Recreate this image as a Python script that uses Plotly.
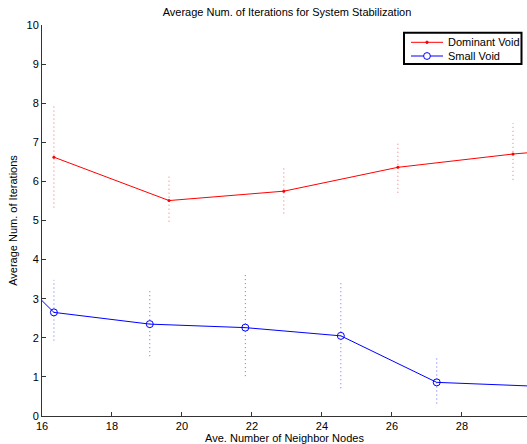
import plotly.graph_objects as go

# Data
dom_x = [16.34, 19.63, 22.91, 26.17, 29.46, 32.74]
dom_y = [6.62, 5.51, 5.75, 6.36, 6.70, 6.95]
dom_lo = [5.33, 4.97, 5.18, 5.71, 6.04, None]
dom_hi = [7.95, 6.16, 6.35, 7.02, 7.49, None]

small_x = [13.61, 16.34, 19.08, 21.81, 24.54, 27.28, 30.01]
small_y = [5.06, 2.65, 2.35, 2.26, 2.05, 0.86, 0.765]
small_lo = [None, 1.93, 1.53, 1.02, 0.71, 0.32, None]
small_hi = [None, 3.48, 3.22, 3.61, 3.43, 1.52, None]

series_names = ["Dominant Void", "Small Void"]
series_colors = ["#ff0000", "#0000ff"]

x_ticks = [16, 18, 20, 22, 24, 26, 28]
y_ticks = [0, 1, 2, 3, 4, 5, 6, 7, 8, 9, 10]

FONT = "Liberation Sans, Arial, sans-serif"

# plot area in pixels (for converting legend layout to paper coords)
W, H = 527, 444
L, R, T, B = 42, 0, 25, 28
PW, PH = W - L - R, H - T - B


def px(x):
    return (x - L) / PW


def py(y):
    return (H - B - y) / PH


fig = go.Figure()


def err_segments(xs, lo, hi):
    ex, ey = [], []
    for x, a, b in zip(xs, lo, hi):
        if a is None or b is None:
            continue
        ex += [x, x, None]
        ey += [a, b, None]
    return ex, ey


ex, ey = err_segments(dom_x, dom_lo, dom_hi)
fig.add_trace(go.Scatter(x=ex, y=ey, mode="lines", showlegend=False, hoverinfo="skip",
                         line=dict(color="rgba(255,90,90,0.9)", width=1, dash="1px,3px")))
ex, ey = err_segments(small_x, small_lo, small_hi)
fig.add_trace(go.Scatter(x=ex, y=ey, mode="lines", showlegend=False, hoverinfo="skip",
                         line=dict(color="rgba(90,90,255,0.9)", width=1, dash="1px,3px")))

fig.add_trace(go.Scatter(x=dom_x, y=dom_y, mode="lines+markers", name=series_names[0],
                         showlegend=False,
                         line=dict(color=series_colors[0], width=1),
                         marker=dict(symbol="circle", size=3, color=series_colors[0])))
fig.add_trace(go.Scatter(x=small_x, y=small_y, mode="lines+markers", name=series_names[1],
                         showlegend=False,
                         line=dict(color=series_colors[1], width=1),
                         marker=dict(symbol="circle-open", size=7, color=series_colors[1],
                                     line=dict(width=1, color=series_colors[1]))))

# Legend (MATLAB style box) drawn in paper coordinates
shapes = [dict(type="rect", xref="paper", yref="paper",
               x0=px(404), x1=px(521.5), y0=py(64), y1=py(32.7),
               line=dict(color="black", width=2), fillcolor="white", layer="above")]
annotations = []
rows = [42.3, 56.0]
for i, (name, col) in enumerate(zip(series_names, series_colors)):
    yy = py(rows[i])
    shapes.append(dict(type="line", xref="paper", yref="paper",
                       x0=px(411), x1=px(443), y0=yy, y1=yy,
                       line=dict(color=col, width=1), layer="above"))
    if i == 0:
        r = 1.2
        shapes.append(dict(type="circle", xref="paper", yref="paper",
                           x0=px(427 - r), x1=px(427 + r), y0=py(rows[i] + r), y1=py(rows[i] - r),
                           line=dict(color=col, width=1), fillcolor=col, layer="above"))
    else:
        r = 3.4
        shapes.append(dict(type="circle", xref="paper", yref="paper",
                           x0=px(427 - r), x1=px(427 + r), y0=py(rows[i] + r), y1=py(rows[i] - r),
                           line=dict(color=col, width=1), fillcolor="white", layer="above"))
    annotations.append(dict(text=name, xref="paper", yref="paper", x=px(446), y=yy,
                            xanchor="left", yanchor="middle", showarrow=False,
                            font=dict(size=11, family=FONT, color="black")))

fig.update_layout(
    width=W, height=H,
    margin=dict(l=L, r=R, t=T, b=B),
    paper_bgcolor="white", plot_bgcolor="white",
    font=dict(family=FONT, size=11, color="black"),
    title=dict(text="Average Num. of Iterations for System Stabilization",
               x=287 / 527, xanchor="center", y=1 - 12 / 444, yanchor="middle",
               font=dict(size=11, family=FONT)),
    showlegend=False,
    shapes=shapes,
    annotations=annotations,
)

fig.update_xaxes(range=[16, 29.86], tickvals=x_ticks, ticks="inside", ticklen=4,
                 showline=True, linecolor="#333", linewidth=1, tickcolor="#333",
                 showgrid=False, zeroline=False, mirror=False,
                 title=dict(text="Ave. Number of Neighbor Nodes", standoff=2,
                            font=dict(size=11)))
fig.update_yaxes(range=[0, 10], tickvals=y_ticks, ticks="inside", ticklen=4,
                 showline=True, linecolor="#333", linewidth=1, tickcolor="#333",
                 showgrid=False, zeroline=False, mirror=False,
                 title=dict(text="Average Num. of Iterations", standoff=6,
                            font=dict(size=11)))

fig.write_html("out.html", config={"displayModeBar": False},
               post_script="document.body.style.margin='0';document.body.style.overflow='hidden';")
